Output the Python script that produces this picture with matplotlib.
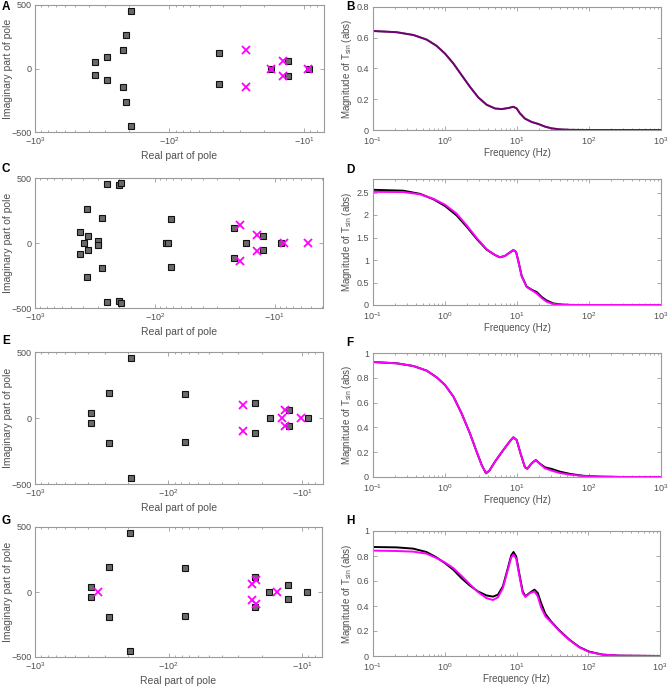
import numpy as np
import matplotlib
matplotlib.use('Agg')
import matplotlib.pyplot as plt
from matplotlib.ticker import FixedLocator, LogLocator, NullFormatter

plt.rcParams['font.family'] = ['Liberation Sans', 'DejaVu Sans']
plt.rcParams['mathtext.default'] = 'regular'

MAGENTA = '#ff00ff'
FRAME = '#9a9a9a'
TEXT = '#505050'

# ---------------- pole data (real, imaginary) ----------------
a_sq_re = [-355, -355, -291, -291, -220, -220, -209, -209, -193, -193, -43, -43, -17.5, -13.1, -13.1, -9.2]
a_sq_im = [50, -50, 87, -87, 147, -147, 265, -265, 452, -452, 122, -122, 0, 58, -58, 0]
a_x_re = [-27.2, -27.2, -17.5, -14.4, -14.4, -9.3]
a_x_im = [145, -145, 0, 60, -60, 0]

c_sq_re = [-422, -422, -388, -369, -369, -359, -359, -298, -298, -275, -275, -250, -250,
           -200, -200, -191, -191, -80, -77, -74, -74, -22, -22, -17.2, -12.4, -12.4, -8.8]
c_sq_im = [88, -88, 0, 265, -265, 54, -54, 18, -18, 196, -196, 456, -456,
           446, -446, 459, -459, 0, 0, 186, -186, 119, -119, 0, 57, -57, 0]
c_x_re = [-19.6, -19.6, -14.1, -14.1, -8.3, -5.3]
c_x_im = [137, -137, 59, -59, 0, 0]

e_sq_re = [-383, -383, -277, -277, -192, -192, -74.6, -74.6, -22.4, -22.4, -17.4, -12.5, -12.5, -9.0]
e_sq_im = [40, -40, 192, -192, 453, -453, 185, -185, 114, -114, 0, 58, -58, 0]
e_x_re = [-27.4, -27.4, -14.1, -13.3, -13.3, -10.1]
e_x_im = [99, -99, 0, 58, -58, 0]

g_sq_re = [-383, -383, -280, -280, -194, -194, -75.9, -75.9, -22.6, -22.6, -17.7, -12.8, -12.8, -9.2]
g_sq_im = [41, -41, 193, -193, 455, -455, 183, -183, 118, -118, 0, 57, -57, 0]
g_x_re = [-335, -23.8, -23.8, -22.3, -22.3, -15.4]
g_x_im = [0, 64, -64, 90, -90, 0]

# ---------------- frequency responses ----------------
b_freq = [0.1, 0.213, 0.363, 0.556, 0.766, 1.0, 1.31, 1.70, 2.22, 2.9, 3.79, 4.95, 6.1, 7.6, 8.9,
          9.9, 11.0, 12.9, 16, 19.8, 24.5, 30, 39.5, 55, 100, 1000]
b_mag = [0.644, 0.636, 0.618, 0.588, 0.547, 0.497, 0.432, 0.357, 0.281, 0.212, 0.164, 0.140, 0.136,
         0.143, 0.151, 0.140, 0.108, 0.074, 0.052, 0.039, 0.022, 0.011, 0.004, 0.001, 0.0, 0.0]

d_freq = [0.1, 0.264, 0.45, 0.69, 1.0, 1.45, 2.0, 2.75, 3.79, 4.95, 5.8, 6.8, 8.0, 8.9, 9.7,
          10.4, 11.6, 13.6, 16.0, 18.7, 22.0, 25.8, 32, 41.7, 60, 1000]
d_mag_black = [2.56, 2.54, 2.47, 2.35, 2.20, 1.99, 1.74, 1.47, 1.23, 1.11, 1.06, 1.09, 1.17, 1.22, 1.18,
               0.99, 0.65, 0.41, 0.34, 0.29, 0.18, 0.10, 0.035, 0.01, 0.0, 0.0]
d_mag_magenta = [2.515, 2.51, 2.46, 2.36, 2.23, 2.03, 1.77, 1.49, 1.24, 1.11, 1.06, 1.09, 1.17, 1.22, 1.18,
                 0.98, 0.64, 0.40, 0.33, 0.26, 0.155, 0.074, 0.022, 0.007, 0.0, 0.0]

f_freq = [0.1, 0.213, 0.363, 0.556, 0.766, 1.0, 1.31, 1.70, 2.22, 2.75, 3.23, 3.71, 4.13, 4.95, 6.46,
          8.0, 8.9, 9.9, 11.2, 12.9, 13.9, 16, 18.2, 20.8, 24.5, 30.3, 39.5, 54.5, 83, 142, 300, 1000]
f_mag_black = [0.927, 0.917, 0.895, 0.858, 0.804, 0.742, 0.648, 0.513, 0.352, 0.204, 0.097, 0.030, 0.051,
               0.124, 0.218, 0.290, 0.320, 0.298, 0.190, 0.078, 0.067, 0.110, 0.137, 0.108, 0.078,
               0.065, 0.043, 0.025, 0.010, 0.003, 0.0, 0.0]
f_mag_magenta = [0.927, 0.917, 0.895, 0.858, 0.804, 0.742, 0.648, 0.513, 0.352, 0.204, 0.097, 0.030, 0.051,
                 0.124, 0.218, 0.290, 0.320, 0.298, 0.190, 0.078, 0.067, 0.110, 0.137, 0.105, 0.070,
                 0.051, 0.032, 0.019, 0.008, 0.003, 0.0, 0.0]

h_freq = [0.1, 0.213, 0.363, 0.556, 0.766, 1.0, 1.31, 1.70, 2.22, 2.9, 3.79, 4.69, 5.5, 6.46, 7.59,
          8.44, 9.08, 9.9, 11.0, 12.2, 13.3, 15.2, 17.8, 19.8, 22.0, 25.3, 30.3, 39.5, 54.5, 75,
          103, 158, 270, 1000]
h_mag_black = [0.872, 0.869, 0.859, 0.832, 0.789, 0.744, 0.691, 0.624, 0.565, 0.517, 0.485, 0.475, 0.490,
               0.557, 0.704, 0.805, 0.832, 0.797, 0.651, 0.517, 0.477, 0.504, 0.531, 0.504, 0.424,
               0.336, 0.277, 0.205, 0.131, 0.072, 0.035, 0.011, 0.003, 0.0]
h_mag_magenta = [0.843, 0.840, 0.835, 0.819, 0.784, 0.749, 0.704, 0.643, 0.576, 0.512, 0.464, 0.448, 0.469,
                 0.544, 0.691, 0.789, 0.811, 0.779, 0.637, 0.504, 0.472, 0.501, 0.517, 0.477, 0.389,
                 0.317, 0.272, 0.200, 0.128, 0.069, 0.032, 0.011, 0.003, 0.0]


def style_axes(ax, xpad, ypad):
	for spine in ax.spines.values():
		spine.set_color(FRAME)
		spine.set_linewidth(0.8)
	ax.tick_params(which='both', direction='in', top=True, right=True, color=FRAME,
				   labelsize=6.5, labelcolor=TEXT, width=0.6)
	ax.tick_params(axis='x', pad=xpad)
	ax.tick_params(axis='y', pad=ypad)
	ax.tick_params(which='major', length=3)
	ax.tick_params(which='minor', length=1.6)


def plot_poles(ax, sq_re, sq_im, x_re, x_im, right_limit):
	ax.plot(-np.array(sq_re), sq_im, linestyle='None', marker='s', markersize=5,
			markerfacecolor='#6a6a6a', markeredgecolor='#111111', markeredgewidth=0.8)
	ax.plot(-np.array(x_re), x_im, linestyle='None', marker='x', markersize=5.5,
			color=MAGENTA, markeredgewidth=1.3)
	ax.set_xscale('log')
	ax.set_xlim(1000, right_limit)
	ax.set_ylim(-500, 500)
	ax.xaxis.set_major_locator(FixedLocator([1000, 100, 10]))
	ax.set_xticklabels(['$-10^{3}$', '$-10^{2}$', '$-10^{1}$'])
	ax.xaxis.set_minor_locator(LogLocator(base=10, subs=np.arange(2, 10)))
	ax.xaxis.set_minor_formatter(NullFormatter())
	ax.set_yticks([-500, 0, 500])
	ax.set_xlabel('Real part of pole', fontsize=7.5, color=TEXT, labelpad=2.5)
	ax.set_ylabel('Imaginary part of pole', fontsize=7.5, color=TEXT)
	ax.yaxis.set_label_coords(-0.077, 0.5)
	style_axes(ax, 2.5, 2.5)


def plot_response(ax, freq, mag_black, mag_magenta, y_top, y_ticks, blend=False):
	ax.plot(freq, mag_black, color='black', linewidth=1.4)
	if blend:
		ax.plot(freq, mag_magenta, color=MAGENTA, linewidth=1.4, alpha=0.45)
	else:
		ax.plot(freq, mag_magenta, color=MAGENTA, linewidth=1.4)
	ax.set_xscale('log')
	ax.set_xlim(0.1, 1000)
	ax.set_ylim(0, y_top)
	ax.xaxis.set_major_locator(FixedLocator([0.1, 1, 10, 100, 1000]))
	ax.set_xticklabels(['$10^{-1}$', '$10^{0}$', '$10^{1}$', '$10^{2}$', '$10^{3}$'])
	ax.xaxis.set_minor_locator(LogLocator(base=10, subs=np.arange(2, 10)))
	ax.xaxis.set_minor_formatter(NullFormatter())
	ax.set_yticks(y_ticks)
	ax.set_yticklabels([('%g' % t) for t in y_ticks])
	ax.set_xlabel('Frequency (Hz)', fontsize=7, color=TEXT, labelpad=0.5)
	ax.set_ylabel(r'Magnitude of T$_{sin}$ (abs)', fontsize=7, color=TEXT)
	ax.yaxis.set_label_coords(-0.066, 0.5)
	style_axes(ax, 4, 3)


fig = plt.figure(figsize=(6.69, 6.86), dpi=100)

W, H = 669.0, 686.0
left_rows = [(5, 132), (178, 308), (352, 484), (527, 657)]
right_rows = [(7, 130), (179, 305), (353, 477), (531, 656)]


def add_axes_px(x0, x1, y0, y1):
	return fig.add_axes([x0 / W, 1 - y1 / H, (x1 - x0) / W, (y1 - y0) / H])


ax_a = add_axes_px(35, 324, *left_rows[0])
ax_c = add_axes_px(35, 323, *left_rows[1])
ax_e = add_axes_px(35, 323, *left_rows[2])
ax_g = add_axes_px(35, 322, *left_rows[3])

ax_b = add_axes_px(373, 661, *right_rows[0])
ax_d = add_axes_px(373, 661, *right_rows[1])
ax_f = add_axes_px(373, 661, *right_rows[2])
ax_h = add_axes_px(373, 660, *right_rows[3])

plot_poles(ax_a, a_sq_re, a_sq_im, a_x_re, a_x_im, 7.1)
plot_poles(ax_c, c_sq_re, c_sq_im, c_x_re, c_x_im, 3.95)
plot_poles(ax_e, e_sq_re, e_sq_im, e_x_re, e_x_im, 6.95)
plot_poles(ax_g, g_sq_re, g_sq_im, g_x_re, g_x_im, 7.1)

plot_response(ax_b, b_freq, b_mag, b_mag, 0.8, [0, 0.2, 0.4, 0.6, 0.8], blend=True)
plot_response(ax_d, d_freq, d_mag_black, d_mag_magenta, 2.8, [0, 0.5, 1, 1.5, 2, 2.5])
plot_response(ax_f, f_freq, f_mag_black, f_mag_magenta, 1.0, [0, 0.2, 0.4, 0.6, 0.8, 1])
plot_response(ax_h, h_freq, h_mag_black, h_mag_magenta, 1.0, [0, 0.2, 0.4, 0.6, 0.8, 1])

# panel letters
for letter, x, y in [('A', 2, 1), ('B', 346, 1), ('C', 2, 163), ('D', 346, 164),
					 ('E', 2, 335), ('F', 346, 337), ('G', 2, 515), ('H', 346, 515)]:
	fig.text(x / W, 1 - y / H, letter, fontsize=8.5, fontweight='bold', va='top', ha='left')

fig.savefig('out.png', dpi=100)
